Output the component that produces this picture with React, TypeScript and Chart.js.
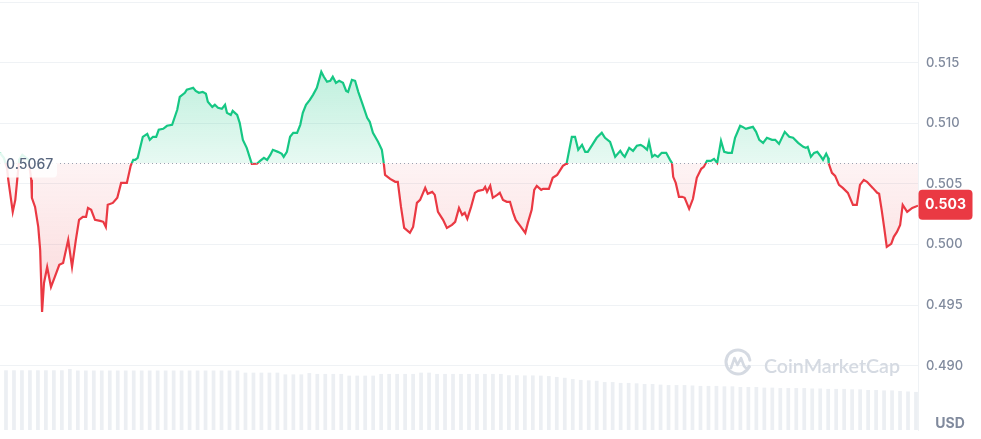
import React, { useEffect, useRef } from "react";
import { Chart, registerables } from "chart.js";

Chart.register(...registerables);

// ---- Data ----
const BASE_PRICE = 0.5067;
const QUOTE_CURRENCY = "USD";
const WATERMARK = "CoinMarketCap";

// minutes since start of the 24h window
const times = [
  0, 6, 11, 13, 20, 24, 27, 30, 35, 41, 45, 49,
  50, 55, 60, 63, 66, 69, 74, 80, 86, 93, 99, 107,
  113, 119, 124, 130, 135, 138, 143, 149, 157, 162, 166, 169,
  177, 184, 190, 199, 205, 209, 212, 216, 224, 231, 235, 240,
  245, 249, 256, 262, 270, 278, 282, 290, 293, 298, 303, 307,
  312, 318, 323, 326, 333, 337, 342, 348, 353, 356, 362, 365,
  372, 376, 381, 387, 395, 403, 408, 414, 419, 424, 428, 436,
  442, 445, 450, 455, 460, 466, 471, 475, 480, 486, 491, 497,
  504, 508, 513, 518, 522, 527, 532, 538, 543, 546, 552, 557,
  562, 568, 576, 580, 585, 593, 599, 602, 604, 612, 620, 624,
  629, 634, 643, 648, 654, 659, 667, 671, 678, 682, 687, 695,
  701, 709, 714, 720, 725, 729, 733, 739, 745, 750, 758, 761,
  764, 769, 773, 780, 784, 789, 795, 800, 805, 809, 816, 824,
  828, 834, 838, 842, 849, 852, 861, 867, 874, 878, 883, 888,
  889, 897, 902, 907, 913, 918, 922, 929, 936, 944, 949, 957,
  965, 973, 977, 980, 987, 993, 999, 1005, 1010, 1015, 1018, 1023,
  1027, 1032, 1038, 1045, 1051, 1054, 1056, 1060, 1065, 1070, 1074, 1081,
  1087, 1093, 1100, 1104, 1109, 1115, 1120, 1125, 1131, 1136, 1142, 1148,
  1153, 1161, 1165, 1170, 1175, 1181, 1186, 1191, 1197, 1203, 1211, 1216,
  1222, 1231, 1238, 1244, 1252, 1260, 1264, 1267, 1272, 1277, 1282, 1288,
  1291, 1296, 1299, 1300, 1305, 1310, 1316, 1322, 1330, 1338, 1344, 1349,
  1355, 1360, 1369, 1376, 1379, 1383, 1387, 1391, 1398, 1402, 1407, 1412,
  1416, 1423, 1431, 1440,
];

const prices = [
  0.50756, 0.50715, 0.50632, 0.50533, 0.50269, 0.50368, 0.50533, 0.50698, 0.50739, 0.50715, 0.50698, 0.50533,
  0.50385, 0.5031, 0.50145, 0.49956, 0.49444, 0.49683, 0.49815, 0.4965, 0.49733, 0.49832, 0.49848, 0.50038,
  0.49815, 0.50038, 0.50203, 0.50228, 0.50228, 0.50302, 0.50286, 0.50203, 0.50195, 0.50187, 0.50145, 0.50327,
  0.50343, 0.50385, 0.50508, 0.50508, 0.50649, 0.50698, 0.50698, 0.50715, 0.50888, 0.50913, 0.50863, 0.50888,
  0.50888, 0.50946, 0.50954, 0.50979, 0.50987, 0.51111, 0.51218, 0.51251, 0.51276, 0.51284, 0.51292, 0.51267,
  0.51251, 0.51259, 0.51243, 0.51177, 0.51135, 0.51152, 0.51127, 0.51119, 0.51152, 0.51086, 0.51069, 0.51102,
  0.51069, 0.51003, 0.50863, 0.50797, 0.50665, 0.50666, 0.5069, 0.50715, 0.50698, 0.50739, 0.50781, 0.50764,
  0.50748, 0.50723, 0.50764, 0.50888, 0.50921, 0.50921, 0.50987, 0.51086, 0.51152, 0.51193, 0.51234, 0.51292,
  0.51424, 0.51383, 0.51342, 0.5135, 0.51383, 0.51333, 0.5135, 0.51333, 0.51267, 0.51259, 0.51358, 0.5135,
  0.51259, 0.51168, 0.51045, 0.51012, 0.50921, 0.50847, 0.50781, 0.5067, 0.50574, 0.50541, 0.50517, 0.50517,
  0.5031, 0.50137, 0.50096, 0.50145, 0.50343, 0.50368, 0.50467, 0.50418, 0.50434, 0.50409, 0.50269, 0.50203,
  0.50137, 0.50162, 0.50187, 0.50302, 0.50244, 0.50261, 0.50211, 0.5031, 0.50426, 0.50442, 0.50451, 0.50475,
  0.50434, 0.50484, 0.50385, 0.50409, 0.50426, 0.50368, 0.50352, 0.50352, 0.50261, 0.50203, 0.50154, 0.50096,
  0.50178, 0.50286, 0.50451, 0.50484, 0.50451, 0.50459, 0.50459, 0.5055, 0.50574, 0.50607, 0.50649, 0.50665,
  0.50673, 0.50888, 0.50888, 0.50781, 0.50822, 0.50764, 0.50764, 0.50822, 0.5088, 0.50921, 0.5088, 0.50847,
  0.50723, 0.50772, 0.50739, 0.50723, 0.50797, 0.50772, 0.50814, 0.50822, 0.50805, 0.50781, 0.50847, 0.50723,
  0.50739, 0.50723, 0.50756, 0.50756, 0.50698, 0.50673, 0.50558, 0.50508, 0.50393, 0.50393, 0.50385, 0.50294,
  0.50377, 0.5055, 0.50624, 0.5064, 0.5069, 0.5069, 0.50706, 0.50673, 0.50855, 0.50764, 0.50756, 0.50756,
  0.5088, 0.50979, 0.5097, 0.50954, 0.50962, 0.5097, 0.50929, 0.50863, 0.50838, 0.5088, 0.50863, 0.50863,
  0.5083, 0.50929, 0.50888, 0.5088, 0.50838, 0.50805, 0.50797, 0.50805, 0.50723, 0.50756, 0.50764, 0.50723,
  0.50698, 0.50748, 0.50715, 0.50668, 0.50591, 0.50566, 0.50492, 0.50467, 0.50426, 0.50327, 0.50327, 0.50492,
  0.50533, 0.50517, 0.50467, 0.50426, 0.50418, 0.50286, 0.50137, 0.4998, 0.50005, 0.50063, 0.50104, 0.50162,
  0.50327, 0.50269, 0.50302, 0.5032,
];

// rolling 24h volume per bar (millions)
const volumes = [
  13.95, 13.95, 13.95, 13.95, 13.95, 13.95, 13.95, 13.95, 14.25,
  13.9, 13.9, 13.9, 13.9, 13.9, 13.9, 13.9, 13.9, 13.9, 13.9, 13.9,
  13.9, 13.9, 13.9, 13.9, 13.9, 13.9, 13.9, 13.9, 13.9, 13.9,
  13.4, 13.4, 13.4, 13.4, 13.4, 13.0, 13.0, 13.0, 13.3,
  13.1, 13.1, 13.1, 13.1, 12.7, 12.7, 12.7, 12.7,
  13.1, 13.1, 13.1, 13.1, 13.1, 13.4, 13.4,
  13.1, 13.1, 13.1, 13.1, 13.1, 13.1, 13.1, 13.1, 13.1,
  12.8, 12.8, 12.75, 12.75, 12.7, 12.6,
  12.4, 12.2, 11.9, 11.7, 11.6, 11.5, 11.2, 11.2, 11.0, 11.0,
  10.9, 10.75, 10.75, 10.6, 10.5, 10.5, 10.5, 10.4, 10.3, 10.3,
  10.3, 10.2, 10.2, 10.05, 10.05, 10.05, 9.9, 9.9, 9.8, 9.8,
  9.8, 9.8, 9.7, 9.7, 9.6, 9.6, 9.6, 9.5, 9.5, 9.35,
  9.35, 9.25, 9.25, 9.1, 9.0, 8.9,
];

const priceTicks = [0.49, 0.495, 0.5, 0.505, 0.51, 0.515, 0.52];

const GREEN = "#16c784";
const RED = "#ea3943";
const AXIS_TEXT = "#808a9d";
const GRID = "#eff2f5";
const FONT = "Inter, 'Noto Sans', sans-serif";

function splitStops(chart: any, aboveTop: string, aboveBase: string, belowBase: string, belowBottom: string) {
  const a = chart.chartArea;
  const ys = chart.scales.y;
  if (!a || !ys) return aboveTop;
  const yb = ys.getPixelForValue(BASE_PRICE);
  const f = Math.min(1, Math.max(0, (yb - a.top) / (a.bottom - a.top)));
  const g = chart.ctx.createLinearGradient(0, a.top, 0, a.bottom);
  g.addColorStop(0, aboveTop);
  g.addColorStop(f, aboveBase);
  g.addColorStop(Math.min(1, f + 0.0001), belowBase);
  g.addColorStop(1, belowBottom);
  return g;
}

function roundRect(ctx: CanvasRenderingContext2D, x: number, y: number, w: number, h: number, r: number) {
  ctx.beginPath();
  ctx.moveTo(x + r, y);
  ctx.lineTo(x + w - r, y);
  ctx.quadraticCurveTo(x + w, y, x + w, y + r);
  ctx.lineTo(x + w, y + h - r);
  ctx.quadraticCurveTo(x + w, y + h, x + w - r, y + h);
  ctx.lineTo(x + r, y + h);
  ctx.quadraticCurveTo(x, y + h, x, y + h - r);
  ctx.lineTo(x, y + r);
  ctx.quadraticCurveTo(x, y, x + r, y);
  ctx.closePath();
}

const overlayPlugin = {
  id: "cmcOverlay",
  beforeDatasetsDraw(chart: any) {
    const { ctx, chartArea: a } = chart;
    ctx.save();
    const wm = "#d5dae2";
    // logo
    const cx = a.right - 180;
    const cy = a.bottom - 68;
    ctx.strokeStyle = wm;
    ctx.lineWidth = 3;
    ctx.lineCap = "round";
    ctx.lineJoin = "round";
    ctx.beginPath();
    ctx.arc(cx, cy, 12, 0.12 * Math.PI, 1.95 * Math.PI);
    ctx.stroke();
    ctx.lineWidth = 2.6;
    ctx.beginPath();
    ctx.moveTo(cx - 7, cy + 6);
    ctx.lineTo(cx - 3.5, cy - 4);
    ctx.lineTo(cx - 0.5, cy + 3);
    ctx.lineTo(cx + 3, cy - 4);
    ctx.lineTo(cx + 6, cy + 4);
    ctx.quadraticCurveTo(cx + 9, cy + 8, cx + 11.5, cy + 5);
    ctx.stroke();
    // text
    ctx.fillStyle = wm;
    ctx.font = `600 20px Lato, ${FONT}`;
    const w0 = ctx.measureText(WATERMARK).width;
    const size = (20 * 136) / w0;
    ctx.font = `600 ${size.toFixed(2)}px Lato, ${FONT}`;
    ctx.textBaseline = "alphabetic";
    ctx.textAlign = "left";
    ctx.fillText(WATERMARK, a.right - 154, a.bottom - 57);
    ctx.restore();
  },
  afterDatasetsDraw(chart: any) {
    const { ctx, chartArea: a, scales } = chart;
    const yb = Math.round(scales.y.getPixelForValue(BASE_PRICE)) + 0.5;
    ctx.save();
    // dotted baseline
    ctx.strokeStyle = "#9aa2b1";
    ctx.lineWidth = 1;
    ctx.setLineDash([1, 3]);
    ctx.beginPath();
    ctx.moveTo(a.left, yb);
    ctx.lineTo(a.right, yb);
    ctx.stroke();
    ctx.setLineDash([]);
    // base price label
    ctx.fillStyle = "rgba(255,255,255,0.88)";
    roundRect(ctx, a.left - 4, yb - 11, 61, 25, 4);
    ctx.fill();
    ctx.fillStyle = "#58667e";
    ctx.font = `500 14px ${FONT}`;
    ctx.textAlign = "left";
    ctx.textBaseline = "middle";
    ctx.fillText(BASE_PRICE.toFixed(4), a.left + 6, yb + 1);
    ctx.restore();
  },
  afterDraw(chart: any) {
    const { ctx, chartArea: a, scales } = chart;
    const last = prices[prices.length - 1];
    const yp = scales.y.getPixelForValue(last);
    ctx.save();
    ctx.fillStyle = RED;
    roundRect(ctx, a.right + 0.5, yp - 16, 54, 30, 4);
    ctx.fill();
    ctx.fillStyle = "#ffffff";
    ctx.font = `700 14px ${FONT}`;
    ctx.textAlign = "center";
    ctx.textBaseline = "middle";
    ctx.fillText(last.toFixed(3), a.right + 27.5, yp - 0.5);
    ctx.fillStyle = AXIS_TEXT;
    ctx.font = `700 14px ${FONT}`;
    ctx.fillText(QUOTE_CURRENCY, a.right + 32, a.bottom - 6);
    ctx.restore();
  },
};

export default function App() {
  const ref = useRef<HTMLCanvasElement | null>(null);

  useEffect(() => {
    if (!ref.current) return;
    Chart.defaults.font.family = FONT;
    const chart = new Chart(ref.current, {
      type: "line",
      data: {
        datasets: [
          {
            type: "line",
            data: times.map((t, i) => ({ x: t, y: prices[i] })),
            xAxisID: "x",
            yAxisID: "y",
            borderWidth: 2.2,
            pointRadius: 0,
            tension: 0,
            order: 1,
            borderColor: (c: any) => splitStops(c.chart, GREEN, GREEN, RED, RED),
            backgroundColor: (c: any) =>
              splitStops(
                c.chart,
                "rgba(22,199,132,0.40)",
                "rgba(22,199,132,0.10)",
                "rgba(234,57,67,0.06)",
                "rgba(234,57,67,0.30)"
              ),
            fill: { target: { value: BASE_PRICE } },
          } as any,
          {
            type: "bar",
            data: volumes,
            xAxisID: "xv",
            yAxisID: "vol",
            backgroundColor: "#eceff3",
            borderWidth: 0,
            barPercentage: 0.93,
            categoryPercentage: 1,
            order: 2,
          } as any,
        ],
      },
      options: {
        responsive: false,
        animation: false,
        events: [],
        layout: { padding: { top: 2, bottom: 9, left: 0, right: 0 } },
        plugins: { legend: { display: false }, tooltip: { enabled: false } },
        scales: {
          x: { type: "linear", min: 0, max: 1440, display: false, offset: false },
          xv: {
            type: "category",
            labels: volumes.map((_, i) => String(i)),
            display: false,
            offset: true,
          },
          y: {
            position: "right",
            min: 0.4847,
            max: 0.52,
            afterBuildTicks: (s: any) => {
              s.ticks = priceTicks.map((v) => ({ value: v }));
            },
            afterFit: (s: any) => {
              s.width = 63;
              s.paddingTop = 0;
              s.paddingBottom = 0;
            },
            grid: { color: GRID, drawTicks: false },
            border: { display: true, color: GRID },
            ticks: {
              padding: 8,
              color: AXIS_TEXT,
              autoSkip: false,
              font: { family: FONT, size: 13, weight: "500" },
              callback: (v: any) => (Number(v) >= 0.5199 ? "" : Number(v).toFixed(3)),
            },
          },
          vol: { display: false, min: 0, max: 100 },
        },
      } as any,
      plugins: [overlayPlugin],
    });
    return () => chart.destroy();
  }, []);

  return (
    <div style={{ position: "fixed", left: 0, top: 0, width: 981, height: 439, background: "#fff" }}>
      <canvas ref={ref} width={981} height={439} style={{ display: "block" }} />
    </div>
  );
}
